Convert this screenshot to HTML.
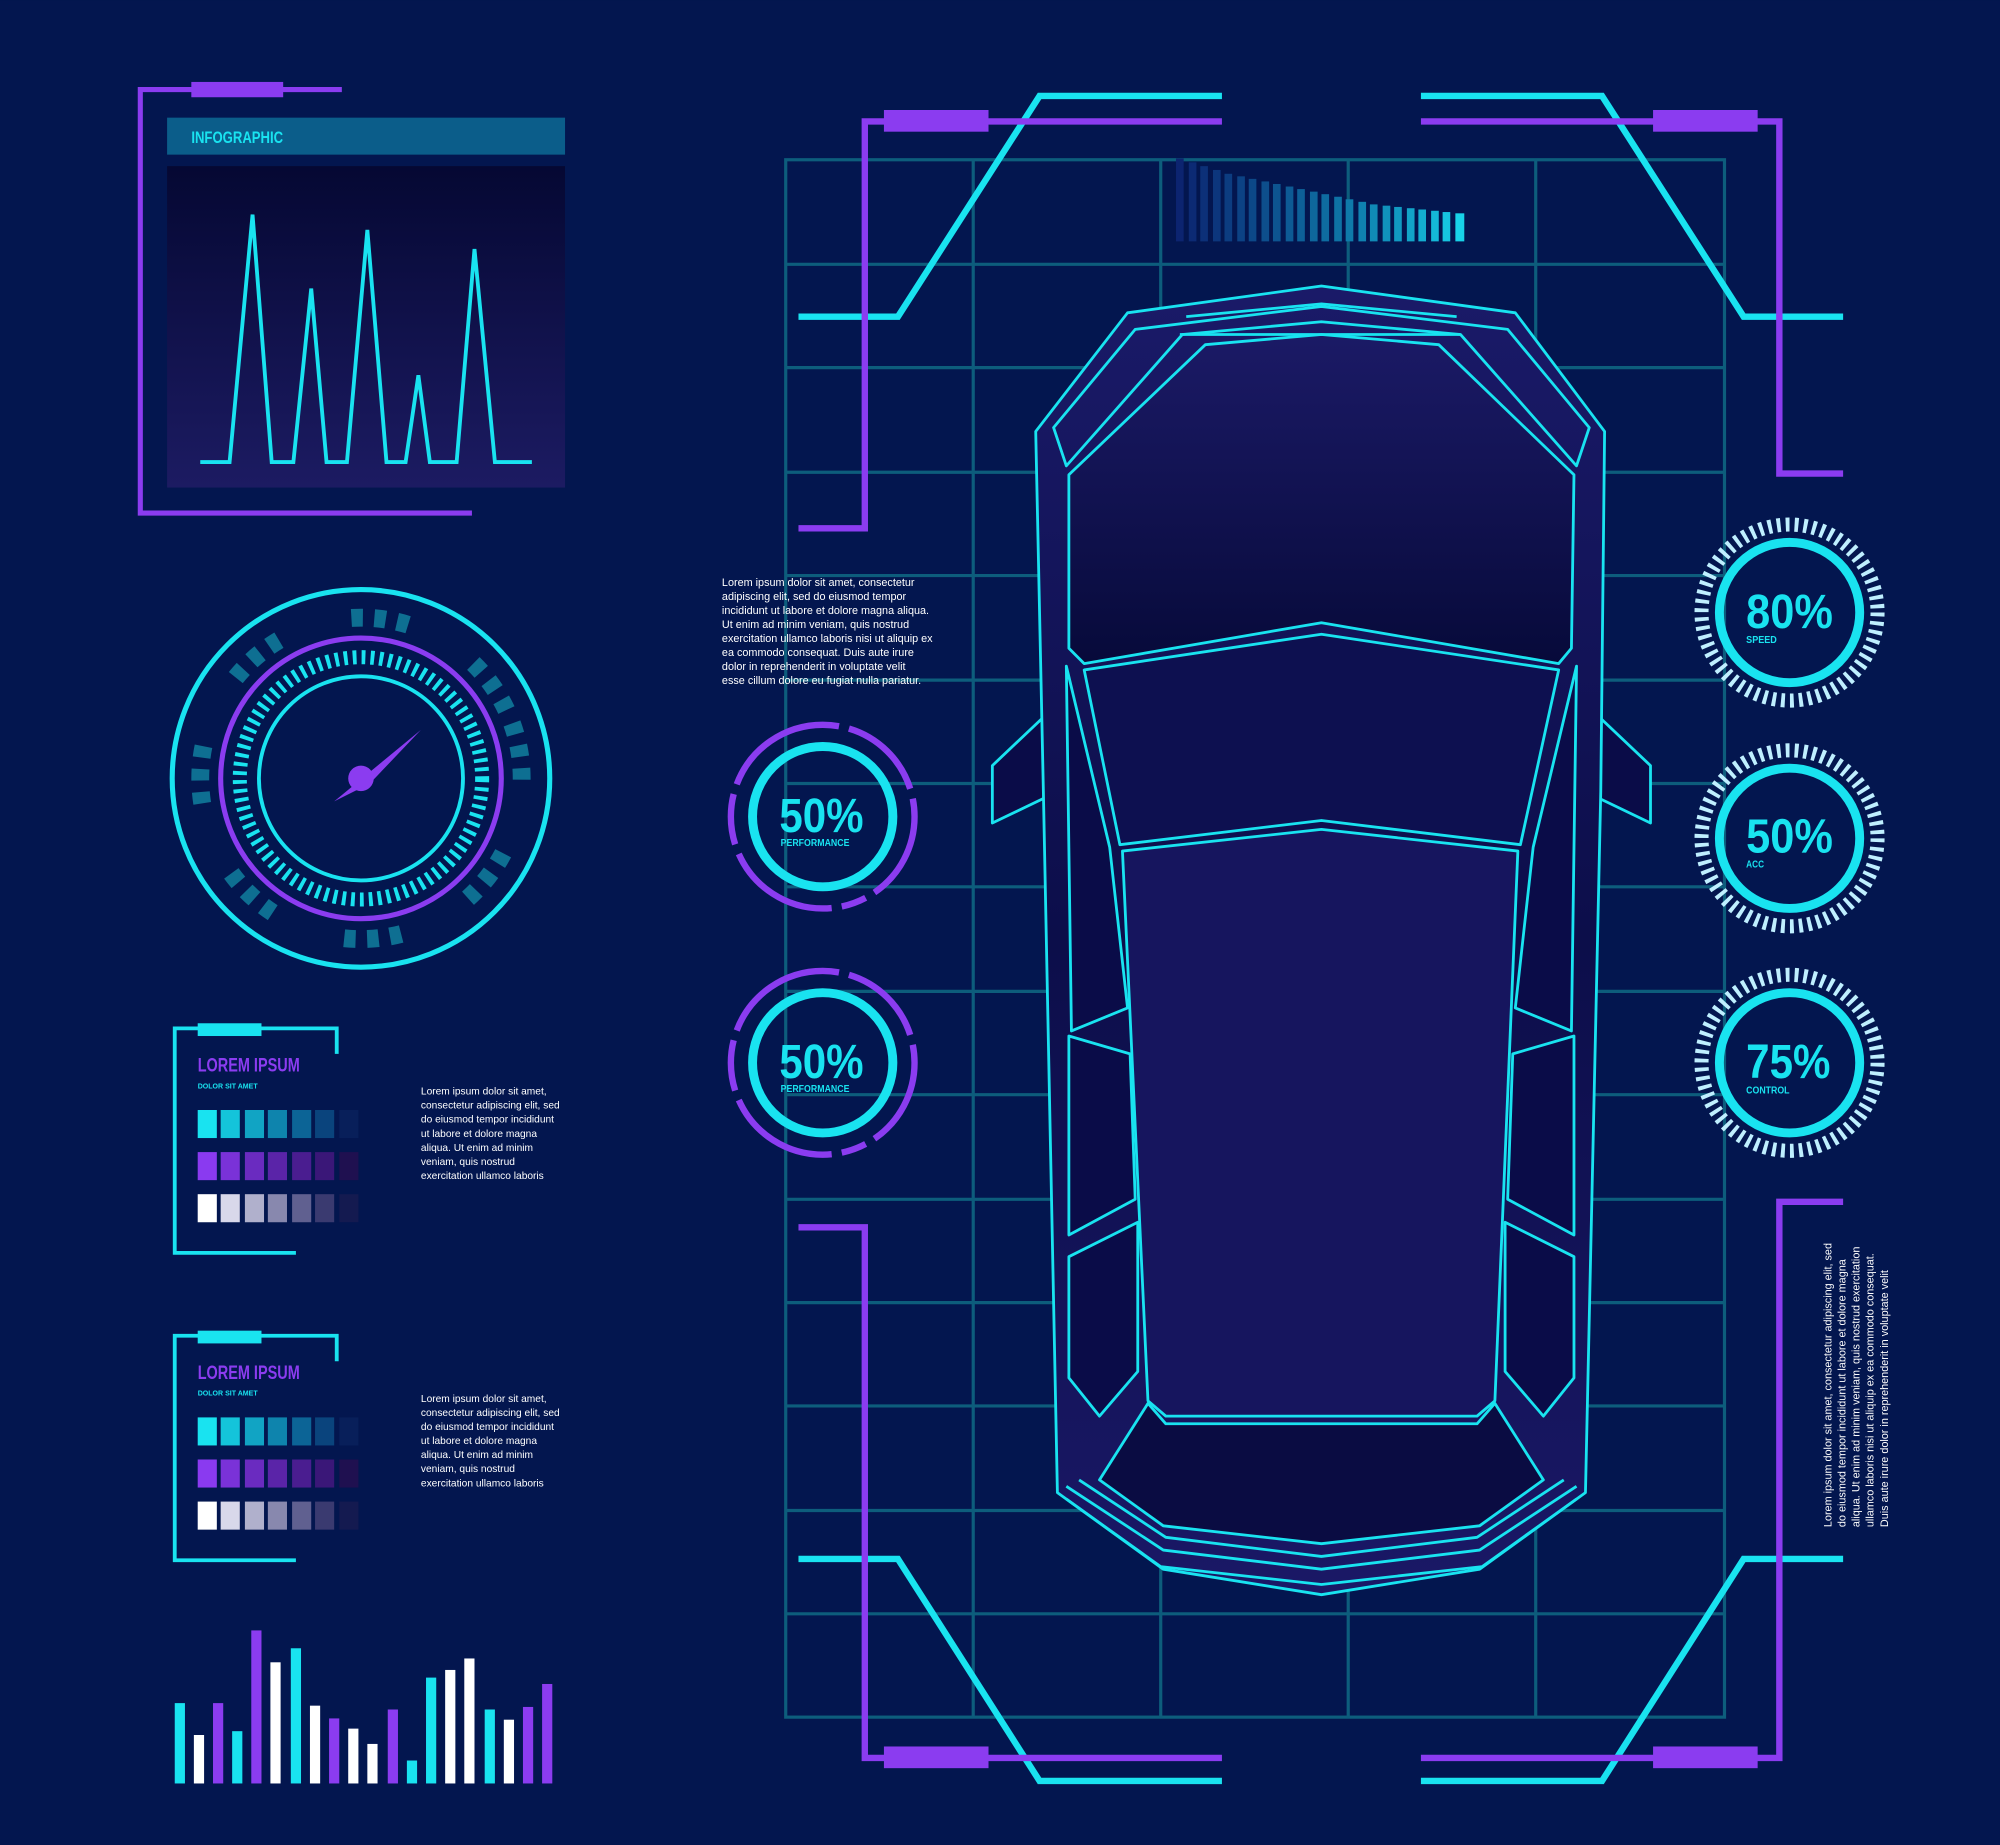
<!DOCTYPE html>
<html><head><meta charset="utf-8"><style>
html,body{margin:0;padding:0;background:#03164f;}
svg{display:block}
text{font-family:"Liberation Sans Narrow","Liberation Sans",sans-serif}
</style></head><body>
<svg width="2000" height="1845" viewBox="0 0 1568 1446" xmlns="http://www.w3.org/2000/svg">
<defs>
<linearGradient id="pg" x1="0" y1="0" x2="0" y2="1"><stop offset="0" stop-color="#050833"/><stop offset="1" stop-color="#1c1b62"/></linearGradient>
<linearGradient id="cg" x1="0" y1="0" x2="0" y2="1"><stop offset="0" stop-color="#1a1a68"/><stop offset="0.5" stop-color="#0c0e4a"/><stop offset="1" stop-color="#1a1866"/></linearGradient>
<linearGradient id="gl" x1="0" y1="0" x2="0" y2="1"><stop offset="0" stop-color="#1b1a66"/><stop offset="1" stop-color="#070a3a"/></linearGradient>
</defs>
<rect width="1568" height="1446" fill="#03164f"/>

<g fill="none" stroke="#8b3cf0" stroke-width="4">
<polyline points="268,70 110,70 110,402 370,402"/>
</g>
<rect x="150" y="64" width="72" height="12" fill="#8b3cf0"/>
<rect x="131" y="92" width="312" height="29" fill="#0b5d8a"/>
<text x="150" y="112" fill="#19e3f0" font-size="13" font-weight="bold" textLength="72" lengthAdjust="spacingAndGlyphs">INFOGRAPHIC</text>
<rect x="131" y="130" width="312" height="252" fill="url(#pg)"/>
<polyline fill="none" stroke="#19e3f0" stroke-width="3" points="157,362 180,362 198,168 213,362 230,362 244,226 256,362 272,362 288,180 303,362 318,362 328,294 337,362 358,362 372,195 388,362 417,362"/>

<g fill="none">
<circle cx="283" cy="610" r="148" stroke="#19e3f0" stroke-width="4"/>
<circle cx="283" cy="610" r="126" stroke="#0e6f92" stroke-width="14" stroke-dasharray="9 9 9 9 9 60" transform="rotate(-20 283 610)"/>
<circle cx="283" cy="610" r="110" stroke="#8b3cf0" stroke-width="4"/>
<circle cx="283" cy="610" r="95" stroke="#19e3f0" stroke-width="11" stroke-dasharray="3 4"/>
<circle cx="283" cy="610" r="80" stroke="#19e3f0" stroke-width="3"/>
</g>
<polygon points="262,628 330,572 290,614" fill="#8b3cf0"/>
<circle cx="283" cy="610" r="10" fill="#8b3cf0"/>

<g>
<polyline fill="none" stroke="#19e3f0" stroke-width="3" points="232,982 137,982 137,806 264,806 264,826"/>
<rect x="155" y="802" width="50" height="10" fill="#19e3f0"/>
<text x="155" y="840" fill="#8b3cf0" font-size="15" font-weight="bold" textLength="80" lengthAdjust="spacingAndGlyphs">LOREM IPSUM</text>
<text x="155" y="853" fill="#19e3f0" font-size="6" font-weight="bold" textLength="47" lengthAdjust="spacingAndGlyphs">DOLOR SIT AMET</text>
</g>
<g font-size="8" fill="#ffffff">
<text x="330" y="858">Lorem ipsum dolor sit amet,</text>
<text x="330" y="869">consectetur adipiscing elit, sed</text>
<text x="330" y="880">do eiusmod tempor incididunt</text>
<text x="330" y="891">ut labore et dolore magna</text>
<text x="330" y="902">aliqua. Ut enim ad minim</text>
<text x="330" y="913">veniam, quis nostrud</text>
<text x="330" y="924">exercitation ullamco laboris</text>
</g>
<g transform="translate(0,241)">
<polyline fill="none" stroke="#19e3f0" stroke-width="3" points="232,982 137,982 137,806 264,806 264,826"/>
<rect x="155" y="802" width="50" height="10" fill="#19e3f0"/>
<text x="155" y="840" fill="#8b3cf0" font-size="15" font-weight="bold" textLength="80" lengthAdjust="spacingAndGlyphs">LOREM IPSUM</text>
<text x="155" y="853" fill="#19e3f0" font-size="6" font-weight="bold" textLength="47" lengthAdjust="spacingAndGlyphs">DOLOR SIT AMET</text>
<g font-size="8" fill="#ffffff">
<text x="330" y="858">Lorem ipsum dolor sit amet,</text>
<text x="330" y="869">consectetur adipiscing elit, sed</text>
<text x="330" y="880">do eiusmod tempor incididunt</text>
<text x="330" y="891">ut labore et dolore magna</text>
<text x="330" y="902">aliqua. Ut enim ad minim</text>
<text x="330" y="913">veniam, quis nostrud</text>
<text x="330" y="924">exercitation ullamco laboris</text>
</g>
</g>
<g>
<g>
<rect x="155" y="870" width="15" height="22" fill="#19e3f0"/><rect x="173" y="870" width="15" height="22" fill="#14c4da"/><rect x="192" y="870" width="15" height="22" fill="#11a4c4"/><rect x="210" y="870" width="15" height="22" fill="#0e84ad"/><rect x="229" y="870" width="15" height="22" fill="#0c6496"/><rect x="247" y="870" width="15" height="22" fill="#0a447d"/><rect x="266" y="870" width="15" height="22" fill="#081f5a"/>
<rect x="155" y="903" width="15" height="22" fill="#8a3af0"/><rect x="173" y="903" width="15" height="22" fill="#7a32d8"/><rect x="192" y="903" width="15" height="22" fill="#6a2bc0"/><rect x="210" y="903" width="15" height="22" fill="#5a24a8"/><rect x="229" y="903" width="15" height="22" fill="#4a1d90"/><rect x="247" y="903" width="15" height="22" fill="#3a1778"/><rect x="266" y="903" width="15" height="22" fill="#1f1050"/>
<rect x="155" y="936" width="15" height="22" fill="#ffffff"/><rect x="173" y="936" width="15" height="22" fill="#d8d8ea"/><rect x="192" y="936" width="15" height="22" fill="#b0b0cc"/><rect x="210" y="936" width="15" height="22" fill="#8888ae"/><rect x="229" y="936" width="15" height="22" fill="#606090"/><rect x="247" y="936" width="15" height="22" fill="#3a3a70"/><rect x="266" y="936" width="15" height="22" fill="#141a50"/>
</g>
<g transform="translate(0,241)">
<rect x="155" y="870" width="15" height="22" fill="#19e3f0"/><rect x="173" y="870" width="15" height="22" fill="#14c4da"/><rect x="192" y="870" width="15" height="22" fill="#11a4c4"/><rect x="210" y="870" width="15" height="22" fill="#0e84ad"/><rect x="229" y="870" width="15" height="22" fill="#0c6496"/><rect x="247" y="870" width="15" height="22" fill="#0a447d"/><rect x="266" y="870" width="15" height="22" fill="#081f5a"/>
<rect x="155" y="903" width="15" height="22" fill="#8a3af0"/><rect x="173" y="903" width="15" height="22" fill="#7a32d8"/><rect x="192" y="903" width="15" height="22" fill="#6a2bc0"/><rect x="210" y="903" width="15" height="22" fill="#5a24a8"/><rect x="229" y="903" width="15" height="22" fill="#4a1d90"/><rect x="247" y="903" width="15" height="22" fill="#3a1778"/><rect x="266" y="903" width="15" height="22" fill="#1f1050"/>
<rect x="155" y="936" width="15" height="22" fill="#ffffff"/><rect x="173" y="936" width="15" height="22" fill="#d8d8ea"/><rect x="192" y="936" width="15" height="22" fill="#b0b0cc"/><rect x="210" y="936" width="15" height="22" fill="#8888ae"/><rect x="229" y="936" width="15" height="22" fill="#606090"/><rect x="247" y="936" width="15" height="22" fill="#3a3a70"/><rect x="266" y="936" width="15" height="22" fill="#141a50"/>
</g>
</g>

<g>
<rect x="137" y="1335" width="8" height="63" fill="#19e3f0"/>
<rect x="152" y="1360" width="8" height="38" fill="#ffffff"/>
<rect x="167" y="1335" width="8" height="63" fill="#8b3cf0"/>
<rect x="182" y="1357" width="8" height="41" fill="#19e3f0"/>
<rect x="197" y="1278" width="8" height="120" fill="#8b3cf0"/>
<rect x="212" y="1303" width="8" height="95" fill="#ffffff"/>
<rect x="228" y="1292" width="8" height="106" fill="#19e3f0"/>
<rect x="243" y="1337" width="8" height="61" fill="#ffffff"/>
<rect x="258" y="1347" width="8" height="51" fill="#8b3cf0"/>
<rect x="273" y="1355" width="8" height="43" fill="#ffffff"/>
<rect x="288" y="1367" width="8" height="31" fill="#ffffff"/>
<rect x="304" y="1340" width="8" height="58" fill="#8b3cf0"/>
<rect x="319" y="1380" width="8" height="18" fill="#19e3f0"/>
<rect x="334" y="1315" width="8" height="83" fill="#19e3f0"/>
<rect x="349" y="1309" width="8" height="89" fill="#ffffff"/>
<rect x="364" y="1300" width="8" height="98" fill="#ffffff"/>
<rect x="380" y="1340" width="8" height="58" fill="#19e3f0"/>
<rect x="395" y="1348" width="8" height="50" fill="#ffffff"/>
<rect x="410" y="1338" width="8" height="60" fill="#8b3cf0"/>
<rect x="425" y="1320" width="8" height="78" fill="#8b3cf0"/>
</g>

<g stroke="#0d5d7c" stroke-width="2.5" fill="none">
<rect x="616" y="125" width="736" height="1221"/>
<line x1="763" y1="125" x2="763" y2="1346"/><line x1="910" y1="125" x2="910" y2="1346"/><line x1="1057" y1="125" x2="1057" y2="1346"/><line x1="1204" y1="125" x2="1204" y2="1346"/>
<line x1="616" y1="207" x2="1352" y2="207"/><line x1="616" y1="288" x2="1352" y2="288"/><line x1="616" y1="370" x2="1352" y2="370"/><line x1="616" y1="451" x2="1352" y2="451"/><line x1="616" y1="533" x2="1352" y2="533"/><line x1="616" y1="614" x2="1352" y2="614"/><line x1="616" y1="695" x2="1352" y2="695"/><line x1="616" y1="777" x2="1352" y2="777"/><line x1="616" y1="858" x2="1352" y2="858"/><line x1="616" y1="940" x2="1352" y2="940"/><line x1="616" y1="1021" x2="1352" y2="1021"/><line x1="616" y1="1102" x2="1352" y2="1102"/><line x1="616" y1="1184" x2="1352" y2="1184"/><line x1="616" y1="1265" x2="1352" y2="1265"/>
</g>

<g>
<rect x="922" y="124" width="6" height="65" fill="#0c2470"/><rect x="932" y="127" width="6" height="62" fill="#0c2a74"/><rect x="941" y="130" width="6" height="59" fill="#0c3078"/><rect x="951" y="133" width="6" height="56" fill="#0c367c"/><rect x="960" y="136" width="6" height="53" fill="#0c3c80"/><rect x="970" y="138" width="6" height="51" fill="#0c4284"/><rect x="979" y="140" width="6" height="49" fill="#0c4888"/><rect x="989" y="142" width="6" height="47" fill="#0d4e8c"/><rect x="998" y="144" width="6" height="45" fill="#0d5490"/><rect x="1008" y="146" width="6" height="43" fill="#0d5a94"/><rect x="1017" y="148" width="6" height="41" fill="#0d6098"/><rect x="1027" y="150" width="6" height="39" fill="#0e669c"/><rect x="1036" y="152" width="6" height="37" fill="#0e6ca0"/><rect x="1046" y="154" width="6" height="35" fill="#0e72a4"/><rect x="1055" y="156" width="6" height="33" fill="#0f7aaa"/><rect x="1065" y="158" width="6" height="31" fill="#0f82b0"/><rect x="1074" y="160" width="6" height="29" fill="#108ab6"/><rect x="1084" y="161" width="6" height="28" fill="#1092bc"/><rect x="1093" y="162" width="6" height="27" fill="#119ac2"/><rect x="1103" y="163" width="6" height="26" fill="#12a4c8"/><rect x="1112" y="164" width="6" height="25" fill="#13aed0"/><rect x="1122" y="165" width="6" height="24" fill="#14b8d8"/><rect x="1131" y="166" width="6" height="23" fill="#16c4e0"/><rect x="1141" y="167" width="7" height="22" fill="#18d2e8"/>
</g>

<g fill="none" stroke-width="5">
<polyline stroke="#19e3f0" points="626,248 704,248 815,75 958,75"/>
<polyline stroke="#8b3cf0" points="626,414 678,414 678,95 958,95"/>
<polyline stroke="#19e3f0" points="1445,248 1367,248 1256,75 1114,75"/>
<polyline stroke="#8b3cf0" points="1445,371 1395,371 1395,95 1114,95"/>
<polyline stroke="#19e3f0" points="626,1222 704,1222 815,1396 958,1396"/>
<polyline stroke="#8b3cf0" points="626,962 678,962 678,1378 958,1378"/>
<polyline stroke="#19e3f0" points="1445,1222 1367,1222 1256,1396 1114,1396"/>
<polyline stroke="#8b3cf0" points="1445,942 1395,942 1395,1378 1114,1378"/>
</g>
<g fill="#8b3cf0">
<rect x="693" y="86" width="82" height="17"/><rect x="1296" y="86" width="82" height="17"/>
<rect x="693" y="1369" width="82" height="17"/><rect x="1296" y="1369" width="82" height="17"/>
</g>

<g stroke="#19e3f0" stroke-width="2.2" stroke-linejoin="round">
<polygon fill="#0a0c48" points="778,600 836,545 830,620 778,645"/>
<polygon fill="#0a0c48" points="1294,600 1236,545 1242,620 1294,645"/>
<path fill="url(#cg)" d="M884,245 L1036,224 L1188,245 L1258,338 L1255,620 L1243,1170 L1160,1230 L1036,1250 L912,1230 L829,1170 L818,620 L812,338 Z"/>
<path fill="none" d="M826,335 L890,258 L1036,240 L1182,258 L1246,335 L1236,365 L1145,262 L1036,252 L927,262 L836,365 Z"/>
<path fill="none" d="M930,248 L1036,238 L1142,248 M925,262 L1145,262"/>
<path fill="url(#gl)" d="M838,372 L945,270 L1036,262 L1128,270 L1234,372 L1232,508 L1222,520 L1036,488 L850,520 L838,508 Z"/>
<path fill="#0d1050" d="M850,525 L1036,497 L1222,525 L1192,662 L1036,643 L878,662 Z"/>
<path fill="#16155e" d="M880,667 L1036,650 L1190,667 L1172,1098 L1158,1110 L914,1110 L900,1098 Z"/>
<path fill="#0a0c48" d="M836,522 L870,664 L884,790 L840,808 Z"/>
<path fill="#0a0c48" d="M1236,522 L1202,664 L1188,790 L1232,808 Z"/>
<path fill="#0a0c48" d="M838,812 L886,826 L890,940 L838,968 Z"/>
<path fill="#0a0c48" d="M1234,812 L1186,826 L1182,940 L1234,968 Z"/>
<path fill="#0a0c48" d="M838,985 L892,958 L892,1075 L862,1110 L838,1080 Z"/>
<path fill="#0a0c48" d="M1234,985 L1180,958 L1180,1075 L1210,1110 L1234,1080 Z"/>
<path fill="#0a0c42" d="M862,1160 L900,1100 L914,1116 L1158,1116 L1172,1100 L1210,1160 L1160,1196 L1036,1210 L912,1196 Z"/>
<path fill="none" d="M836,1165 L912,1215 L1036,1230 L1160,1215 L1236,1165 M846,1160 L914,1205 L1036,1220 L1158,1205 L1226,1160 M836,1175 L910,1228 L1036,1242 L1162,1228 L1236,1175"/>
</g>

<g font-size="8.5" fill="#ffffff">
<text x="566" y="459">Lorem ipsum dolor sit amet, consectetur</text>
<text x="566" y="470">adipiscing elit, sed do eiusmod tempor</text>
<text x="566" y="481">incididunt ut labore et dolore magna aliqua.</text>
<text x="566" y="492">Ut enim ad minim veniam, quis nostrud</text>
<text x="566" y="503">exercitation ullamco laboris nisi ut aliquip ex</text>
<text x="566" y="514">ea commodo consequat. Duis aute irure</text>
<text x="566" y="525">dolor in reprehenderit in voluptate velit</text>
<text x="566" y="536">esse cillum dolore eu fugiat nulla pariatur.</text>
</g>

<g fill="none">
<circle cx="645" cy="640" r="55" stroke="#19e3f0" stroke-width="7"/>
<circle cx="645" cy="640" r="72" stroke="#8b3cf0" stroke-width="5" stroke-dasharray="70 8 20 8 90 8 40 8 100 8"/>
<circle cx="645" cy="833" r="55" stroke="#19e3f0" stroke-width="7"/>
<circle cx="645" cy="833" r="72" stroke="#8b3cf0" stroke-width="5" stroke-dasharray="70 8 20 8 90 8 40 8 100 8"/>
</g>
<g fill="#19e3f0" font-weight="bold">
<text x="611" y="652" font-size="38" textLength="66" lengthAdjust="spacingAndGlyphs">50%</text>
<text x="612" y="663" font-size="8" textLength="54" lengthAdjust="spacingAndGlyphs">PERFORMANCE</text>
<text x="611" y="845" font-size="38" textLength="66" lengthAdjust="spacingAndGlyphs">50%</text>
<text x="612" y="856" font-size="8" textLength="54" lengthAdjust="spacingAndGlyphs">PERFORMANCE</text>
</g>

<g fill="none">
<circle cx="1403" cy="480" r="55" stroke="#19e3f0" stroke-width="7"/>
<circle cx="1403" cy="480" r="69" stroke="#bfefff" stroke-width="11" stroke-dasharray="3 4"/>
<circle cx="1403" cy="657" r="55" stroke="#19e3f0" stroke-width="7"/>
<circle cx="1403" cy="657" r="69" stroke="#bfefff" stroke-width="11" stroke-dasharray="3 4"/>
<circle cx="1403" cy="833" r="55" stroke="#19e3f0" stroke-width="7"/>
<circle cx="1403" cy="833" r="69" stroke="#bfefff" stroke-width="11" stroke-dasharray="3 4"/>
</g>
<g fill="#19e3f0" font-weight="bold">
<text x="1369" y="492" font-size="38" textLength="68" lengthAdjust="spacingAndGlyphs">80%</text>
<text x="1369" y="504" font-size="8" textLength="24" lengthAdjust="spacingAndGlyphs">SPEED</text>
<text x="1369" y="668" font-size="38" textLength="68" lengthAdjust="spacingAndGlyphs">50%</text>
<text x="1369" y="680" font-size="8" textLength="14" lengthAdjust="spacingAndGlyphs">ACC</text>
<text x="1369" y="845" font-size="38" textLength="66" lengthAdjust="spacingAndGlyphs">75%</text>
<text x="1369" y="857" font-size="8" textLength="34" lengthAdjust="spacingAndGlyphs">CONTROL</text>
</g>

<g font-size="8.5" fill="#ffffff">
<text transform="translate(1436,1197) rotate(-90)">Lorem ipsum dolor sit amet, consectetur adipiscing elit, sed</text>
<text transform="translate(1447,1197) rotate(-90)">do eiusmod tempor incididunt ut labore et dolore magna</text>
<text transform="translate(1458,1197) rotate(-90)">aliqua. Ut enim ad minim veniam, quis nostrud exercitation</text>
<text transform="translate(1469,1197) rotate(-90)">ullamco laboris nisi ut aliquip ex ea commodo consequat.</text>
<text transform="translate(1480,1197) rotate(-90)">Duis aute irure dolor in reprehenderit in voluptate velit</text>
</g>
</svg>
</body></html>
